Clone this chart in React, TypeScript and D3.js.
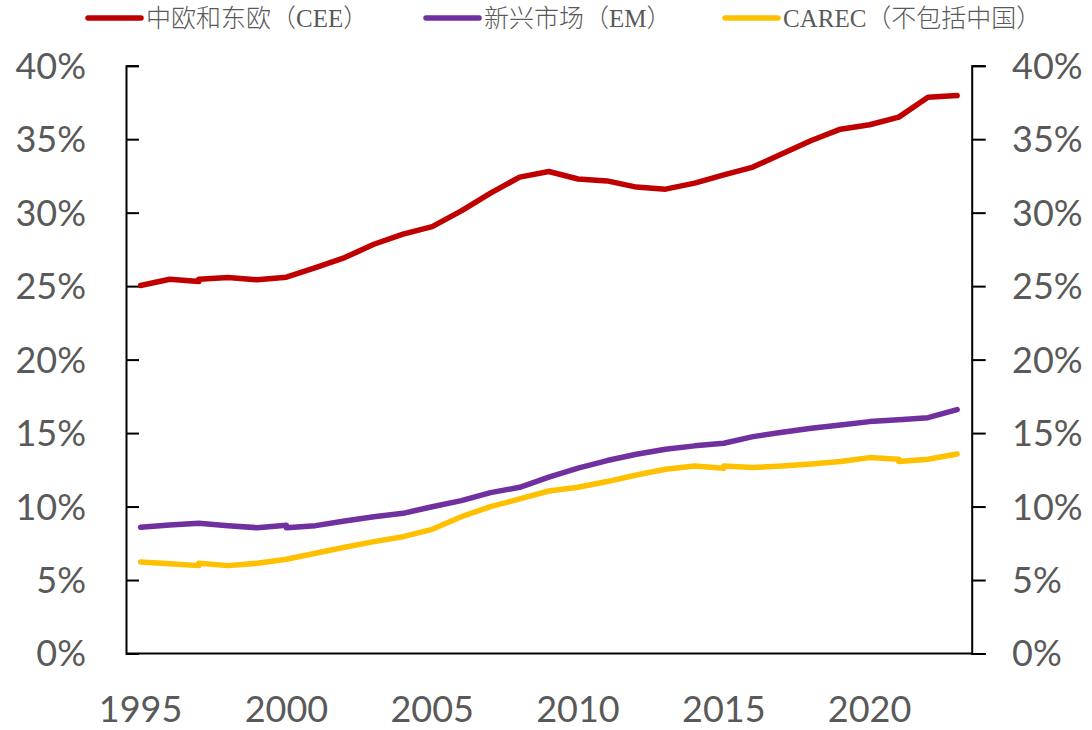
import React, { useEffect, useRef } from "react";
import * as d3 from "d3";

// share of ... by year (percent)
// a year shows twice where the original line has a small step
const ceeSeries: [number, number][] = [
  [1995, 25.04], [1996, 25.47], [1997, 25.31], [1997, 25.47], [1998, 25.58],
  [1999, 25.43], [2000, 25.61], [2001, 26.26], [2002, 26.94], [2003, 27.85],
  [2004, 28.54], [2005, 29.05], [2006, 30.12], [2007, 31.33], [2008, 32.42],
  [2009, 32.8], [2010, 32.29], [2011, 32.16], [2012, 31.74], [2013, 31.6],
  [2014, 32.01], [2015, 32.57], [2016, 33.1], [2017, 34.0], [2018, 34.91],
  [2019, 35.68], [2020, 35.98], [2021, 36.5], [2022, 37.86], [2023, 37.97],
];

const emSeries: [number, number][] = [
  [1995, 8.59], [1996, 8.75], [1997, 8.86], [1998, 8.7], [1999, 8.56],
  [2000, 8.72], [2000, 8.56], [2001, 8.7], [2002, 9.02], [2003, 9.31],
  [2004, 9.54], [2005, 9.99], [2006, 10.4], [2007, 10.95], [2008, 11.31],
  [2009, 12.0], [2010, 12.61], [2011, 13.13], [2012, 13.56], [2013, 13.9],
  [2014, 14.13], [2015, 14.31], [2016, 14.76], [2017, 15.06], [2018, 15.33],
  [2019, 15.55], [2020, 15.78], [2021, 15.9], [2022, 16.05], [2023, 16.6],
];

const carecSeries: [number, number][] = [
  [1995, 6.23], [1996, 6.11], [1997, 5.98], [1997, 6.14], [1998, 5.98],
  [1999, 6.14], [2000, 6.41], [2001, 6.82], [2002, 7.23], [2003, 7.61],
  [2004, 7.95], [2005, 8.45], [2006, 9.31], [2007, 9.99], [2008, 10.52],
  [2009, 11.06], [2010, 11.31], [2011, 11.7], [2012, 12.15], [2013, 12.54],
  [2014, 12.76], [2015, 12.61], [2015, 12.76], [2016, 12.65], [2017, 12.76],
  [2018, 12.9], [2019, 13.06], [2020, 13.33], [2021, 13.22], [2021, 13.06],
  [2022, 13.22], [2023, 13.58],
];

const seriesNames = ["中欧和东欧（CEE）", "新兴市场（EM）", "CAREC（不包括中国）"];
const seriesColors = ["#C00000", "#7030A0", "#FFC000"];
const yTicks = [0, 5, 10, 15, 20, 25, 30, 35, 40];
const xTicks = [1995, 2000, 2005, 2010, 2015, 2020];

const W = 1092, H = 730;

export default function App() {
  const ref = useRef<SVGSVGElement>(null);

  useEffect(() => {
    const svg = d3.select(ref.current);
    svg.selectAll("*").remove();

    const left = 126, right = 971.7, top = 65.7, bottom = 653.5;
    // category axis: each year sits in the middle of its slot
    const x = d3.scaleLinear().domain([1994.5, 2023.5]).range([left, right]);
    const y = d3.scaleLinear().domain([0, 40]).range([bottom, top]);

    const labelFont = "Lato, 'Open Sans', sans-serif";
    const grey = "#595959";

    // left axis, ticks pointing inward
    const yl = svg.append("g").attr("transform", `translate(${left},0)`)
      .call(d3.axisRight(y).tickValues(yTicks).tickSize(13).tickFormat(() => ""));
    yl.select(".domain").attr("stroke", "#000").attr("stroke-width", 2);
    yl.selectAll(".tick line").attr("stroke", "#000").attr("stroke-width", 2);

    // right axis, ticks pointing out
    const yr = svg.append("g").attr("transform", `translate(${right},0)`)
      .call(d3.axisRight(y).tickValues(yTicks).tickSize(14).tickFormat(() => ""));
    yr.select(".domain").attr("stroke", "#000").attr("stroke-width", 2);
    yr.selectAll(".tick line").attr("stroke", "#000").attr("stroke-width", 2);

    // bottom axis line only
    svg.append("line")
      .attr("x1", left).attr("x2", right)
      .attr("y1", bottom).attr("y2", bottom)
      .attr("stroke", "#000").attr("stroke-width", 2);

    // tick labels
    svg.append("g").selectAll("text").data(yTicks).enter().append("text")
      .attr("x", 86).attr("y", (d) => y(d)).attr("dy", "0.36em")
      .attr("text-anchor", "end")
      .style("font-family", labelFont).style("font-size", "36px").attr("fill", grey)
      .text((d) => d + "%");

    svg.append("g").selectAll("text").data(yTicks).enter().append("text")
      .attr("x", 1012).attr("y", (d) => y(d)).attr("dy", "0.36em")
      .attr("text-anchor", "start")
      .style("font-family", labelFont).style("font-size", "36px").attr("fill", grey)
      .text((d) => d + "%");

    svg.append("g").selectAll("text").data(xTicks).enter().append("text")
      .attr("x", (d) => x(d)).attr("y", 722)
      .attr("text-anchor", "middle")
      .style("font-family", labelFont).style("font-size", "36px").attr("fill", grey)
      .text((d) => d);

    // lines
    const line = d3.line<[number, number]>()
      .x((d) => x(d[0]))
      .y((d) => y(d[1]));

    [ceeSeries, emSeries, carecSeries].forEach((s, i) => {
      svg.append("path")
        .datum(s)
        .attr("d", line)
        .attr("fill", "none")
        .attr("stroke", seriesColors[i])
        .attr("stroke-width", 5.5)
        .attr("stroke-linejoin", "round")
        .attr("stroke-linecap", "round");
    });

    // legend
    const legendX = [88, 426, 725];
    const legend = svg.append("g").selectAll("g").data(seriesNames).enter().append("g")
      .attr("transform", (d, i) => `translate(${legendX[i]},18)`);
    legend.append("line")
      .attr("x1", 0).attr("x2", 53).attr("y1", 0).attr("y2", 0)
      .attr("stroke", (d, i) => seriesColors[i])
      .attr("stroke-width", 5.5)
      .attr("stroke-linecap", "round");
    legend.append("text")
      .attr("x", 58).attr("y", 0).attr("dy", "0.36em")
      .style("font-family", "'Liberation Serif', 'Noto Sans CJK SC', serif")
      .style("font-size", "25px")
      .style("font-weight", 300)
      .attr("fill", grey)
      .text((d) => d);
  }, []);

  return (
    <svg
      ref={ref}
      width={W}
      height={H}
      style={{ position: "absolute", left: 0, top: 0, background: "#fff" }}
    />
  );
}
